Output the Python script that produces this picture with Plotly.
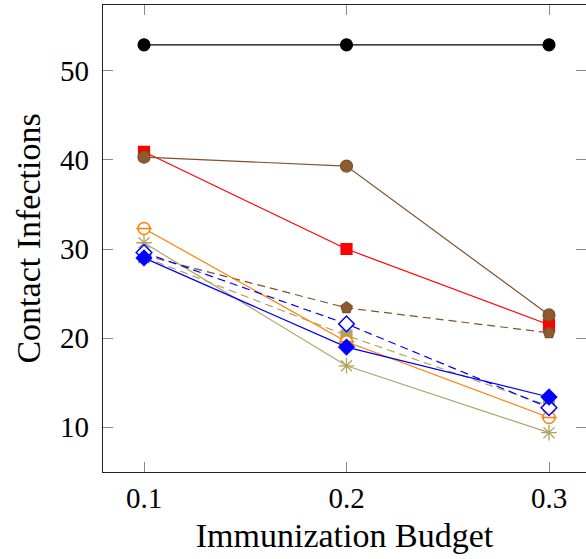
import plotly.graph_objects as go

budgets = [0.1, 0.2, 0.3]
x_tick_labels = ["0.1", "0.2", "0.3"]
y_ticks = [10, 20, 30, 40, 50]

black_vals = [52.9, 52.9, 52.9]
red_vals = [40.9, 30.0, 21.5]
brown_solid_vals = [40.3, 39.3, 22.6]
brown_dashed_vals = [29.3, 23.4, 20.6]
olive_dashed_vals = [29.1, 20.3, 12.4]
orange_vals = [32.3, 19.6, 11.1]
olive_star_vals = [30.7, 16.9, 9.4]
blue_dashed_vals = [29.6, 21.6, 12.2]
blue_solid_vals = [29.0, 19.0, 13.4]

BROWN = "#7d5229"
BROWN_FILL = "#8c5c2f"
OLIVE = "#b0a462"
ORANGE = "#ff8000"
DASH = "8px,5px"

fig = go.Figure()

def add(vals, color, symbol, size, fill=None, dash="solid", lw=1.2, mlw=1.2):
    fig.add_trace(go.Scatter(
        x=budgets, y=vals, mode="lines+markers",
        line=dict(color=color, width=lw, dash=dash),
        marker=dict(symbol=symbol, size=size, color=fill if fill else color,
                    line=dict(color=color, width=mlw)),
        showlegend=False, cliponaxis=False))

add(black_vals, "black", "circle", 12)
add(red_vals, "#ff0000", "square", 11)
add(brown_solid_vals, BROWN, "circle", 12, fill=BROWN_FILL)
add(brown_dashed_vals, BROWN, "pentagon", 12, fill=BROWN_FILL, dash=DASH)
add(olive_dashed_vals, OLIVE, "square", 11, dash=DASH)
add(orange_vals, ORANGE, "circle", 12, fill="white", mlw=1.5)
# half-filled look for the orange markers
fig.add_trace(go.Scatter(x=budgets, y=orange_vals, mode="markers",
                         marker=dict(symbol="line-ew", size=11, line=dict(color=ORANGE, width=1.5)),
                         showlegend=False, cliponaxis=False))
add(olive_star_vals, OLIVE, "asterisk", 13, mlw=1.3)
add(blue_dashed_vals, "#0000ff", "diamond", 12, fill="white", dash=DASH, mlw=1.5)
add(blue_solid_vals, "#0000ff", "diamond", 12)

font_family = "Liberation Serif, DejaVu Serif, serif"

fig.update_layout(
    width=586, height=559,
    margin=dict(l=103, r=0, t=5, b=87, autoexpand=False),
    paper_bgcolor="white", plot_bgcolor="white",
    font=dict(family=font_family, color="black", size=30),
    xaxis=dict(
        range=[0.07975, 0.31827], automargin=False,
        tickvals=budgets, ticktext=x_tick_labels,
        ticks="inside", ticklen=10, tickwidth=1, tickcolor="#8a8a8a",
        showline=True, linecolor="#222222", linewidth=1.3, mirror="ticks",
        showgrid=False, zeroline=False,
        tickfont=dict(size=29),
        title=dict(text="Immunization Budget", font=dict(size=34), standoff=10),
    ),
    yaxis=dict(
        range=[4.986, 57.37], automargin=False,
        tickvals=y_ticks,
        ticks="inside", ticklen=10, tickwidth=1, tickcolor="#8a8a8a",
        ticklabelstandoff=7,
        showline=True, linecolor="#222222", linewidth=1.3, mirror=False,
        showgrid=False, zeroline=False,
        tickfont=dict(size=29),
        title=dict(text="Contact Infections", font=dict(size=34), standoff=9),
    ),
    yaxis2=dict(
        range=[4.986, 57.37], overlaying="y", side="right", automargin=False,
        tickvals=y_ticks, ticks="inside", ticklen=10, tickwidth=1, tickcolor="#8a8a8a",
        showticklabels=False, showline=False, showgrid=False, zeroline=False,
    ),
)
# dummy invisible trace to activate yaxis2
fig.add_trace(go.Scatter(x=[0.1], y=[10], yaxis="y2", mode="markers",
                         marker=dict(opacity=0), showlegend=False, hoverinfo="skip"))

fig.write_html("out.html", config={"displayModeBar": False},
               post_script="document.body.style.margin='0px';document.body.style.overflow='hidden';")
